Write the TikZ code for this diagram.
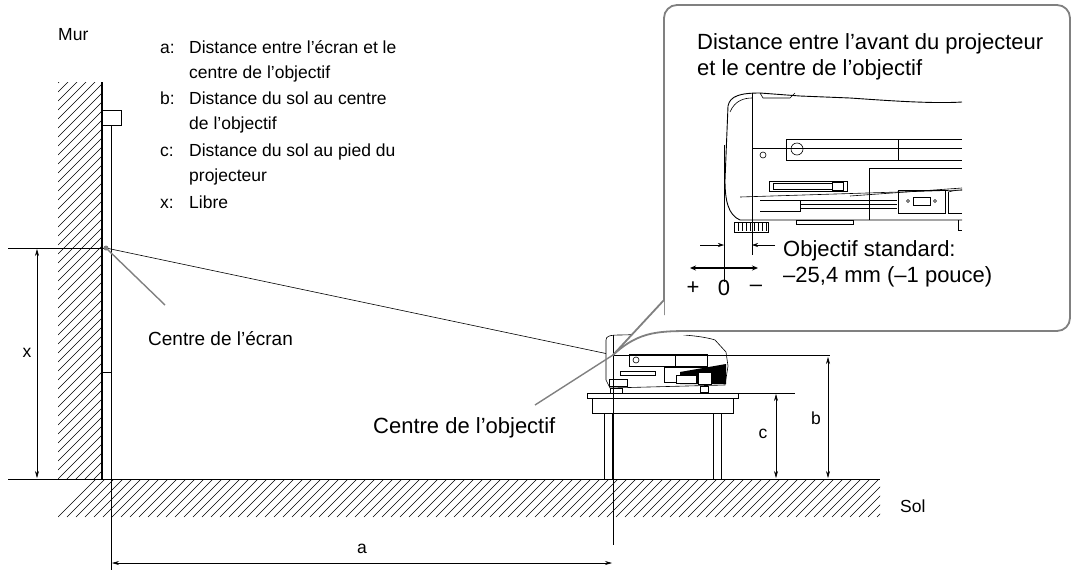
\documentclass[tikz,border=0pt]{standalone}
\usepackage{fontspec}
\setmainfont{Liberation Sans}
\usetikzlibrary{arrows.meta}
\begin{document}
\begin{tikzpicture}[x=1pt,y=-1pt,
  txt/.style={font=\fontsize{17.5}{25}\selectfont,inner sep=0pt},
  big/.style={font=\fontsize{22}{25}\selectfont,inner sep=0pt},
  lbl/.style={txt,anchor=base west},
  blbl/.style={big,anchor=base west},
  gr/.style={draw=black!50,line width=1.8pt},
  dim/.style={{Stealth[length=7pt,width=4pt]}-{Stealth[length=7pt,width=4pt]},line width=0.6pt},
  ln/.style={line width=0.6pt}]
\useasboundingbox (0,0) rectangle (1076,579);
% hatching
\begin{scope}
\clip (58,82) rectangle (102,479);
\foreach \i in {-60,-51,...,480}{\draw[ln] (58,\i+44) -- (102,\i);}
\end{scope}
\begin{scope}
\clip (58,479) rectangle (880,517);
\foreach \i in {58,67,...,930}{\draw[ln] (\i,517) -- (\i+38,479);}
\end{scope}
\draw[line width=1.2pt] (102,82) -- (102,479);
\draw[line width=1pt] (8,479) -- (880,479);
% screen
\draw[ln] (102,125) rectangle (111,372);
\draw[ln] (102,110) rectangle (121,125);
\draw[ln] (111,372) -- (111,479);
\coordinate (sc) at (106,248);
\coordinate (lens) at (613,355);
\draw[ln] (8,248) -- (sc);
\draw[ln] (sc) -- (lens);
\fill[black!50] (sc) circle (2.5pt);
\draw[gr,line width=1.4pt] (sc) -- (165,305);
\draw[dim] (37,249) -- (37,478);
\node[txt] (xl) at (27,353) {x};
% table
\draw[ln] (587,393) rectangle (738,398);
\draw[ln] (592,398) rectangle (733,413);
\draw[ln] (604,413) rectangle (612,479);
\draw[ln] (713,413) rectangle (721,479);
% small projector
\draw[ln,fill=white] (606,340) .. controls (606,336) and (610,335) .. (620,335) -- (660,334) .. controls (670,334) and (700,335) .. (715,340) -- (726,352) -- (728,366) -- (725,385) -- (610,388) -- (606,380) -- cycle;
\draw[ln] (629,354) rectangle (707,366);
\draw[ln] (675,354) -- (675,366);
\draw[ln] (636,360) circle (3);
\draw[ln] (620,371) rectangle (655,375);
\draw[ln] (664,367) rectangle (712,382);
\fill (680,372) -- (726,364) -- (726,384) -- (680,384) -- cycle;
\draw[ln,fill=white] (676,375) rectangle (696,383);
\draw[ln,fill=white] (698,372) rectangle (711,384);
\draw[ln] (609,379) rectangle (627,386);
\draw[ln] (700,386) rectangle (708,392);
\draw[ln] (610,388) rectangle (622,393);
\draw[ln] (lens) -- (830,355);
\draw[ln] (613,335) -- (613,545);
% b, c
\draw[ln] (738,393) -- (795,393);
\draw[dim] (776,394) -- (776,478);
\draw[dim] (828,357) -- (828,478);
\node[txt] (cl) at (763,434) {c};
\node[txt] (bl) at (816,418) {b};
% a
\draw[ln] (111,479) -- (111,570);
\draw[dim] (112,563) -- (612,563);
\node[txt] (al) at (362,549) {a};
% labels
\node[lbl] (mur) at (58,40) {Mur};
\node[lbl] (sol) at (900,512) {Sol};
\node[lbl,font=\fontsize{19}{25}\selectfont] (ce) at (148,345) {Centre de l’écran};
\node[blbl] (co) at (373,433) {Centre de l’objectif};
\node[lbl] at (160,53) {a:};\node[lbl] at (189,53) {Distance entre l’écran et le};
\node[lbl] at (189,78) {centre de l’objectif};
\node[lbl] at (160,104) {b:};\node[lbl] at (189,104) {Distance du sol au centre};
\node[lbl] at (189,129) {de l’objectif};
\node[lbl] at (160,156) {c:};\node[lbl] at (189,156) {Distance du sol au pied du};
\node[lbl] at (189,181) {projecteur};
\node[lbl] at (160,208) {x:};\node[lbl] at (189,208) {Libre};
% callout
\draw[gr,fill=white,rounded corners=13pt] (664,315) -- (664,5) -- (1070,5) -- (1070,331) -- (700,331);
\fill[white] (664,300) -- (lens) -- (700,331) -- (664,331) -- cycle;
\draw[gr] (664,300) -- (lens);
\draw[gr] (lens) .. controls (640,330) and (660,331) .. (700,331);
\draw[gr,line width=1.4pt] (535,405) -- (lens);
\node[blbl] at (697,49) {Distance entre l’avant du projecteur};
\node[blbl] at (697,75) {et le centre de l’objectif};
% big projector
\draw[line width=0.9pt] (962,102) .. controls (930,104) and (880,100) .. (850,98) -- (800,96) -- (760,93) .. controls (740,93) and (730,96) .. (728,106) -- (725,180) .. controls (725,200) and (728,215) .. (740,220) -- (962,220);
\draw[ln] (730,112) .. controls (735,100) and (745,98) .. (752,98);
\draw[ln] (760,93) -- (763,98) -- (790,98) -- (795,93);
\draw[ln] (752,148) -- (962,148);
\draw[ln] (786,139) -- (786,160) -- (962,160);
\draw[ln] (786,139) -- (962,139);
\draw[ln] (898,139) -- (898,160);
\draw[ln] (797,149) circle (6);
\draw[ln] (763,155) circle (3);
\draw[ln] (769,181) rectangle (847,191);
\draw[ln] (773,183) rectangle (832,189);
\draw[ln] (832,182) rectangle (843,190);
\draw[ln] (869,168) -- (962,168); \draw[ln] (869,168) -- (869,220);
\draw[ln] (850,196) -- (962,188);
\draw[ln] (740,197) -- (962,190);
\draw[ln] (760,200) -- (800,200) -- (800,211) -- (760,211);
\foreach \yy in {200,204,208}{\draw[ln] (800,\yy) -- (897,\yy);}
\draw[ln] (898,190) rectangle (945,213);
\draw[ln] (908,201) circle (1.5); \draw[ln] (935,201) circle (1.5);
\draw[ln] (913,197) rectangle (930,205);
\draw[ln] (948,192) .. controls (955,190) and (962,190) .. (962,190);
\draw[ln] (948,192) -- (948,213) -- (962,213);
\draw[ln] (796,220) rectangle (853,224);
\draw[ln] (958,220) -- (958,230) -- (962,230);
\draw[ln,fill=white] (734,222) rectangle (768,232);
\foreach \xx in {738,742,...,766}{\draw[ln] (\xx,223) -- (\xx,231);}
\draw[ln] (752,93) -- (752,255);
\draw[ln] (724,145) -- (724,282);
\draw[-{Stealth[length=6pt,width=4pt]},ln] (700,245) -- (724,245);
\draw[-{Stealth[length=6pt,width=4pt]},ln] (775,245) -- (752,245);
\draw[{Stealth[length=6pt,width=5pt]}-{Stealth[length=6pt,width=5pt]},line width=2pt] (690,268) -- (758,268);
\node[big] at (693,288) {+};
\node[big] at (724,288) {0};
\node[big] at (756,288) {–};
\node[blbl] at (783,256) {Objectif standard:};
\node[blbl] at (783,282) {–25,4 mm (–1 pouce)};
\end{tikzpicture}
\end{document}
